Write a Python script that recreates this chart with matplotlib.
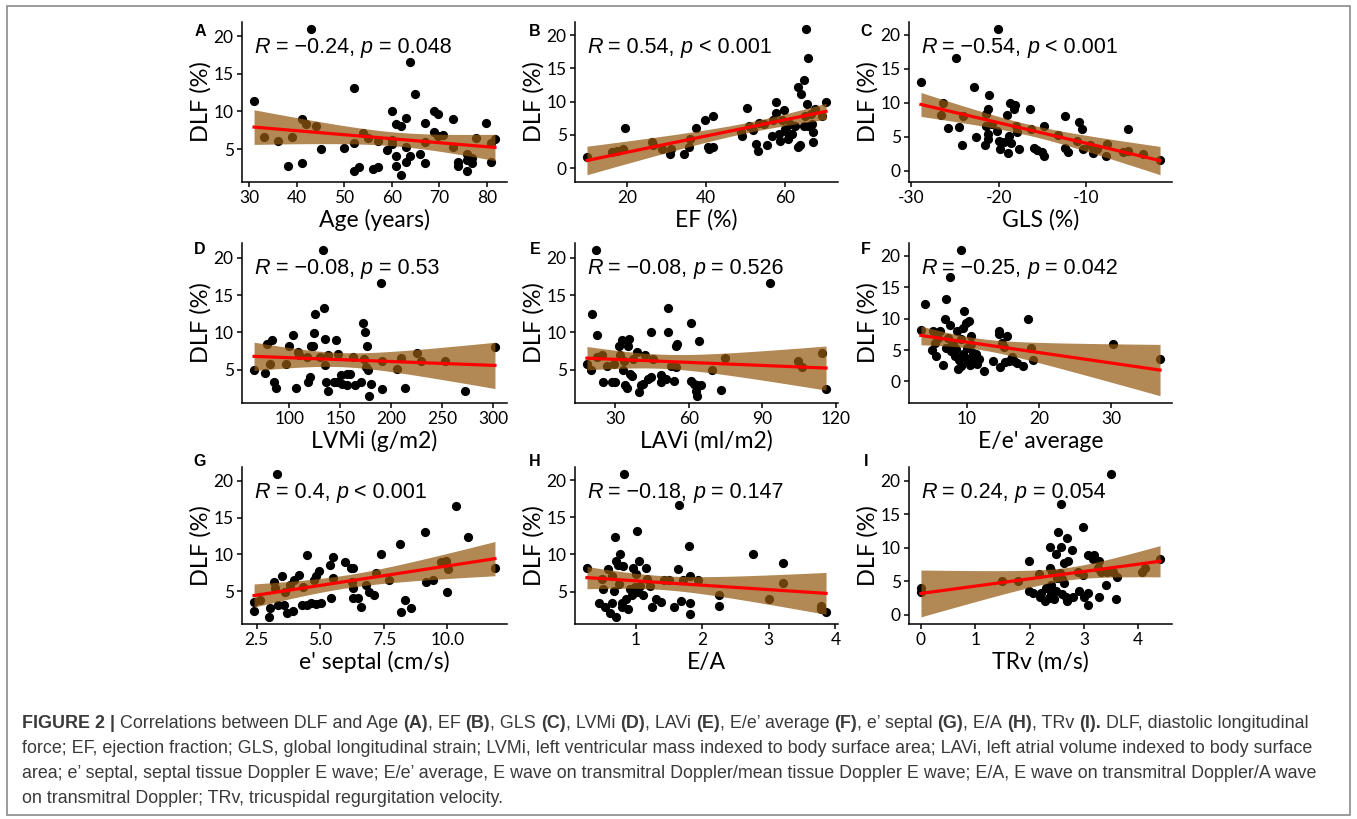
import numpy as np
import matplotlib
matplotlib.use("Agg")
import matplotlib.pyplot as plt
from matplotlib.ticker import FixedLocator, FixedFormatter
from matplotlib.patches import Rectangle

W, H = 1357, 819
T95 = 1.997  # t quantile, ~65 df

# ---- data: DLF (%) against each parameter ----
age_x = [31, 33, 36, 38.1, 39, 41, 41, 41.9, 44, 43, 45, 50, 52, 52, 52, 53, 53.9, 54.9, 56, 57,
         57, 59, 60, 60, 60, 60.9, 60.9, 60.9, 61.9, 61.9, 62.9, 62.9, 62.9, 63.9, 63.9, 64.9, 65.9,
         66.9, 66.9, 66.9, 68.8, 68.8, 69.8, 69.8, 70.8, 72.9, 72.9, 73.9, 73.9, 75.8, 75.8, 75.8,
         76.8, 77.8, 76.8, 79.8, 81.7, 80.9, 80.9]
age_dlf = [11.4, 6.6, 6.1, 2.7, 6.6, 9.0, 3.2, 8.3, 8.0, 20.9, 5.0, 5.1, 13.1, 5.8, 2.1, 2.6, 7.1,
           6.5, 2.4, 2.6, 6.1, 4.9, 10.0, 6.2, 5.7, 4.1, 2.7, 8.3, 8.0, 1.6, 9.1, 5.3, 3.3, 16.6,
           4.1, 12.3, 4.4, 8.4, 3.1, 6.0, 10.0, 7.3, 9.7, 6.7, 6.9, 9.0, 5.3, 3.3, 2.8, 4.4, 3.6,
           2.1, 3.8, 6.5, 3.1, 8.4, 6.4, 5.8, 3.3]

ef_x = [9.75, 16.05, 17.3, 19.0, 19.4, 26.4, 26.6, 28.7, 30.9, 31.0, 34.3, 35.6, 36.0, 37.5, 39.8,
        40.4, 40.8, 41.7, 41.9, 48.8, 49.2, 50.3, 50.9, 51.9, 52.6, 53.3, 53.4, 54.7, 55.5, 56.8,
        57.0, 57.9, 57.9, 58.5, 58.9, 59.2, 59.7, 60.0, 60.6, 60.8, 61.4, 61.8, 62.7, 63.3, 63.9,
        64.2, 64.8, 65.2, 63.4, 65.6, 66.0, 64.8, 65.4, 66.0, 66.6, 66.9, 67.1, 67.3, 67.7, 70.5,
        69.4]
ef_dlf = [1.6, 2.4, 2.6, 2.8, 6.1, 3.9, 3.4, 2.9, 2.1, 2.8, 2.1, 3.1, 4.4, 6.1, 7.3, 3.1, 2.8, 7.9,
          3.1, 5.4, 4.9, 9.1, 6.4, 5.7, 3.6, 2.6, 6.8, 6.7, 3.4, 4.9, 7.2, 10.0, 8.3, 5.1, 4.1, 7.2,
          8.7, 5.9, 5.4, 4.4, 6.6, 5.1, 6.4, 12.2, 3.5, 11.2, 6.4, 7.9, 3.1, 9.7, 6.3, 13.2, 20.9,
          16.6, 8.2, 6.7, 5.4, 3.9, 8.9, 10.0, 7.9]

gls_x = [-28.9, -26.4, -26.6, -25.8, -24.9, -24.6, -24.2, -22.8, -22.6, -21.5, -21.5, -21.6, -21.1,
         -21.3, -21.3, -21.2, -20.8, -20.2, -20.1, -20.0, -19.9, -19.4, -19.1, -19.0, -18.7, -18.8,
         -18.6, -18.3, -18.2, -18.1, -17.9, -17.7, -16.5, -16.3, -16.0, -15.7, -15.1, -14.9, -14.9,
         -13.2, -12.5, -12.5, -12.1, -10.8, -10.5, -10.4, -9.2, -9.2, -7.8, -7.7, -5.8, -5.3, -5.3,
         -3.6, -1.6, -11.1, -9.6, -8.8, -24.1]
gls_dlf = [13.1, 9.9, 8.2, 6.3, 16.6, 6.4, 3.8, 12.3, 4.9, 8.3, 6.5, 3.7, 11.2, 9.0, 5.4, 4.7, 6.8,
           5.9, 20.8, 4.4, 3.2, 4.2, 8.2, 2.6, 9.9, 5.1, 4.1, 9.0, 9.6, 6.6, 5.7, 3.2, 9.0, 6.2, 3.4,
           3.1, 2.8, 6.6, 2.1, 5.3, 8.0, 3.4, 2.8, 7.2, 6.1, 3.2, 2.6, 3.3, 2.1, 3.9, 2.7, 6.1, 2.9,
           2.4, 1.5, 4.4, 3.7, 3.2, 8.1]

lvmi_x = [65.2, 76, 77.7, 82.8, 81.1, 84.4, 86.8, 96.3, 99.7, 103, 106.4, 108.1, 109.8, 117.2, 118.2,
          119.9, 121.6, 123.3, 125, 124, 130, 132.8, 134.1, 135.2, 135.2, 136.2, 137.5, 137.5, 143.6,
          145.3, 146.9, 147.7, 150.4, 152, 156.5, 157, 159.8, 162.2, 164.6, 170.7, 172.3, 173.4, 174,
          176.7, 177.4, 178, 180.1, 175.7, 190.3, 191, 191, 206.2, 209.5, 214, 225.8, 229.2, 252.8,
          272.1, 302]
lvmi_dlf = [4.9, 4.5, 8.4, 9.0, 5.8, 3.4, 2.5, 5.8, 8.1, 9.6, 2.6, 7.4, 7.0, 6.7, 3.3, 4.0, 8.1, 8.2,
            12.4, 9.9, 6.7, 21.0, 13.2, 9.1, 5.6, 3.3, 2.1, 6.9, 3.3, 9.0, 3.4, 7.1, 4.3, 3.1, 4.4,
            3.0, 4.4, 6.7, 3.0, 3.4, 11.3, 6.4, 10.0, 8.2, 4.9, 1.5, 3.1, 5.3, 16.6, 6.2, 2.4, 5.1,
            6.5, 2.5, 7.2, 6.1, 6.2, 2.1, 8.0]

lavi_x = [18.4, 20, 20.4, 22, 22.7, 22.7, 24.7, 25.1, 26.4, 28.7, 30, 29.3, 31.3, 32, 32.7, 33.3,
          33.6, 34, 34.7, 35.3, 35.7, 36, 36.7, 37.1, 38.7, 39.7, 40.3, 41.3, 42, 43.3, 44.7, 44.7,
          45.3, 48.7, 48.7, 50.7, 51.3, 51.3, 52.7, 54, 54.7, 54.9, 55.2, 60.7, 60.7, 62, 62.9, 63.3,
          64.3, 65.1, 63.3, 69.3, 73.1, 74.9, 93.3, 104.7, 106, 114.4, 116.0]
lavi_dlf = [5.8, 4.9, 12.4, 21.0, 9.6, 6.7, 7.0, 3.4, 5.5, 3.4, 3.3, 5.8, 8.2, 6.9, 9.0, 4.9, 6.1,
            2.9, 2.6, 8.2, 9.1, 4.4, 4.2, 6.4, 7.4, 2.0, 2.9, 3.1, 6.9, 3.8, 10.0, 4.0, 6.4, 4.3, 3.3,
            3.8, 13.2, 10.0, 5.5, 3.5, 8.1, 5.3, 8.4, 11.3, 3.5, 3.1, 2.1, 1.5, 8.9, 3.0, 3.0, 5.0,
            2.3, 6.5, 16.6, 6.1, 5.3, 7.2, 2.4]

ee_x = [3.6, 4.2, 5.1, 5.3, 5.7, 5.6, 6.2, 6.7, 6.9, 7.1, 7.1, 7.3, 7.6, 7.7, 7.8, 7.9, 8.3, 8.6,
        8.7, 8.9, 9.1, 9.2, 9.2, 9.4, 9.5, 9.6, 9.9, 10.0, 10.2, 10.3, 10.6, 10.6, 11.0, 11.1, 11.2,
        11.4, 12.3, 13.6, 14.4, 14.4, 14.6, 14.9, 15.2, 15.3, 15.5, 15.8, 16.3, 16.5, 17.0, 17.8,
        18.4, 18.9, 19.2, 30.3, 36.8, 8.0, 9.8, 10.8, 8.4, 10.4, 6.0, 11.6]
ee_dlf = [8.2, 12.3, 5.0, 8.1, 4.1, 6.2, 8.1, 2.6, 10.0, 13.1, 5.4, 7.0, 9.0, 16.6, 4.9, 5.9, 4.1,
          8.0, 2.0, 3.4, 20.9, 6.7, 2.4, 4.3, 8.5, 11.3, 9.3, 5.4, 3.3, 9.7, 7.3, 6.0, 4.1, 3.0, 4.3,
          2.8, 1.6, 3.2, 8.0, 7.5, 2.3, 6.2, 5.5, 3.1, 7.2, 3.3, 3.9, 3.3, 2.9, 2.5, 9.9, 5.4, 3.4,
          6.0, 3.6, 6.0, 3.8, 4.6, 5.2, 2.6, 7.0, 3.6]

es_x = [2.39, 2.39, 2.63, 2.99, 3.03, 3.16, 3.22, 3.29, 3.34, 3.49, 3.55, 3.62, 3.68, 3.82, 3.91,
        3.95, 4.17, 4.26, 4.30, 4.47, 4.47, 4.63, 4.74, 4.83, 4.83, 4.96, 5.03, 5.39, 5.42, 5.49,
        5.51, 5.97, 6.21, 6.28, 6.24, 6.28, 6.28, 6.47, 6.61, 6.80, 6.93, 7.10, 7.17, 7.39, 7.72,
        8.12, 8.18, 8.32, 8.58, 9.10, 9.17, 9.43, 9.76, 9.96, 10.0, 10.03, 10.32, 10.79, 11.87]
es_dlf = [3.5, 2.3, 3.8, 1.5, 2.7, 6.2, 5.4, 20.9, 3.1, 7.0, 3.1, 4.9, 2.0, 5.8, 2.3, 6.5, 7.2, 3.1,
          5.6, 9.9, 3.1, 3.4, 6.5, 7.1, 3.2, 7.8, 3.4, 8.5, 4.0, 9.7, 6.8, 8.9, 8.1, 8.2, 6.2, 5.4,
          4.0, 4.1, 2.9, 5.8, 4.9, 4.5, 7.4, 10.0, 6.5, 11.4, 2.1, 3.8, 2.7, 13.1, 6.2, 6.5, 9.0,
          9.1, 4.9, 8.0, 16.6, 12.3, 8.2]

ea_x = [0.27, 0.45, 0.50, 0.51, 0.54, 0.59, 0.61, 0.64, 0.65, 0.68, 0.69, 0.70, 0.71, 0.73, 0.75,
        0.76, 0.79, 0.80, 0.81, 0.82, 0.86, 0.89, 0.91, 0.94, 0.96, 0.99, 1.01, 1.02, 1.03, 1.05,
        1.07, 1.11, 1.15, 1.17, 1.21, 1.24, 1.31, 1.38, 1.43, 1.50, 1.58, 1.64, 1.65, 1.68, 1.71,
        1.80, 1.81, 1.81, 1.81, 1.94, 2.25, 2.25, 2.77, 3.00, 3.21, 3.21, 3.78, 3.79, 3.86]
ea_dlf = [8.2, 3.4, 6.7, 5.3, 2.9, 8.0, 2.1, 3.4, 7.1, 5.1, 12.4, 1.6, 9.1, 8.6, 6.0, 10.0, 3.4, 2.9,
          8.5, 20.8, 4.0, 2.7, 5.4, 4.5, 8.2, 5.6, 7.4, 13.1, 5.0, 9.1, 5.8, 4.5, 8.2, 6.7, 5.8, 2.9,
          4.0, 3.6, 6.5, 6.5, 2.9, 8.0, 16.6, 3.8, 6.5, 11.2, 7.1, 3.5, 2.0, 6.5, 4.5, 3.0, 10.0,
          4.0, 8.9, 6.1, 3.1, 2.6, 2.3]

trv_x = [0, 0, 1.49, 1.79, 1.99, 1.99, 2.07, 2.18, 2.19, 2.28, 2.31, 2.38, 2.38, 2.40, 2.40, 2.42,
         2.44, 2.48, 2.48, 2.53, 2.55, 2.58, 2.58, 2.60, 2.63, 2.64, 2.67, 2.69, 2.71, 2.69, 2.78,
         2.80, 2.89, 2.98, 2.99, 3.08, 3.08, 3.08, 3.16, 3.19, 3.25, 3.27, 3.28, 3.31, 3.40, 3.43,
         3.50, 3.53, 3.59, 3.60, 4.07, 4.12, 4.40, 2.5, 2.2, 3.0, 2.35, 2.9, 2.6]
trv_dlf = [4.0, 3.4, 5.0, 5.1, 8.1, 3.6, 3.3, 6.1, 2.7, 2.0, 4.0, 10.1, 7.0, 4.5, 3.1, 6.4, 2.3, 9.1,
           3.5, 12.3, 6.2, 10.1, 16.6, 3.1, 4.8, 7.7, 2.6, 11.4, 8.1, 2.0, 9.7, 2.7, 6.4, 13.1, 5.9,
           9.0, 3.2, 1.5, 8.4, 9.0, 7.0, 8.1, 2.6, 6.4, 4.5, 6.4, 21.0, 6.4, 2.3, 5.6, 6.4, 7.0, 8.4,
           5.5, 3.2, 2.7, 2.5, 3.6, 5.3]

letters = ["A", "B", "C", "D", "E", "F", "G", "H", "I"]
xlabels = ["Age (years)", "EF (%)", "GLS (%)", "LVMi (g/m2)", "LAVi (ml/m2)", "E/e' average",
           "e' septal (cm/s)", "E/A", "TRv (m/s)"]
r_text = ["\u22120.24", "0.54", "\u22120.54", "\u22120.08", "\u22120.08", "\u22120.25", "0.4",
          "\u22120.18", "0.24"]
p_text = ["= 0.048", "< 0.001", "< 0.001", "= 0.53", "= 0.526", "= 0.042", "< 0.001", "= 0.147",
          "= 0.054"]
xticks = [[30, 40, 50, 60, 70, 80], [20, 40, 60], [-30, -20, -10], [100, 150, 200, 250, 300],
          [30, 60, 90, 120], [10, 20, 30], [2.5, 5.0, 7.5, 10.0], [1, 2, 3, 4], [0, 1, 2, 3, 4]]
xticklabels = [["30", "40", "50", "60", "70", "80"], ["20", "40", "60"], ["-30", "-20", "-10"],
               ["100", "150", "200", "250", "300"], ["30", "60", "90", "120"], ["10", "20", "30"],
               ["2.5", "5.0", "7.5", "10.0"], ["1", "2", "3", "4"], ["0", "1", "2", "3", "4"]]
yticks = [0, 5, 10, 15, 20]

caption = [
    [("FIGURE 2 |", True), (" Correlations between DLF and Age ", False), ("(A)", True),
     (", EF ", False), ("(B)", True), (", GLS ", False), ("(C)", True), (", LVMi ", False),
     ("(D)", True), (", LAVi ", False), ("(E)", True), (", E/e\u2019 average ", False), ("(F)", True),
     (", e\u2019 septal ", False), ("(G)", True), (", E/A ", False), ("(H)", True), (", TRv ", False),
     ("(I).", True), (" DLF, diastolic longitudinal", False)],
    [("force; EF, ejection fraction; GLS, global longitudinal strain; LVMi, left ventricular mass "
      "indexed to body surface area; LAVi, left atrial volume indexed to body surface", False)],
    [("area; e\u2019 septal, septal tissue Doppler E wave; E/e\u2019 average, E wave on transmitral "
      "Doppler/mean tissue Doppler E wave; E/A, E wave on transmitral Doppler/A wave", False)],
    [("on transmitral Doppler; TRv, tricuspidal regurgitation velocity.", False)],
]

# layout in pixels (left, right) / (top, bottom)
COLS = [(242, 507), (575, 838), (909, 1172)]
ROWS = [(22, 182), (243, 403), (467, 624)]
LETTER_X = [200, 535, 866]
LETTER_Y = [31, 250, 461]

RIBBON = (148 / 255, 90 / 255, 18 / 255)
AX_FONT = "Lato"
TXT_FONT = "Liberation Sans"


def fig_xy(x, y):
    return x / W, 1 - y / H


def text_width(fig, rend, s, **kw):
    t = fig.text(0, 0, s, **kw)
    w = t.get_window_extent(rend).width
    t.remove()
    return w


def rich_text(fig, rend, x, y, parts, **common):
    # draws pieces one after another on a shared baseline (pixel coords from top-left)
    for s, extra in parts:
        kw = {**common, **extra}
        space = text_width(fig, rend, "x x", **kw) - text_width(fig, rend, "xx", **kw)
        core = s.strip(" ")
        x += (len(s) - len(s.lstrip(" "))) * space
        if core:
            t = fig.text(*fig_xy(x, y), core, ha="left", va="baseline", **kw)
            x += t.get_window_extent(rend).width
        x += (len(s) - len(s.rstrip(" "))) * space
    return x


def fit_band(x, y, n_grid=100):
    x = np.asarray(x, float)
    y = np.asarray(y, float)
    n = len(x)
    slope, icpt = np.polyfit(x, y, 1)
    xs = np.linspace(x.min(), x.max(), n_grid)
    resid = y - (icpt + slope * x)
    s = np.sqrt(resid @ resid / (n - 2))
    sxx = ((x - x.mean()) ** 2).sum()
    se = s * np.sqrt(1 / n + (xs - x.mean()) ** 2 / sxx)
    fit = icpt + slope * xs
    return xs, fit, fit - T95 * se, fit + T95 * se


def main():
    plt.rcParams["axes.unicode_minus"] = False
    fig = plt.figure(figsize=(W / 100, H / 100), dpi=100)
    rend = fig.canvas.get_renderer()

    data = [(age_x, age_dlf), (ef_x, ef_dlf), (gls_x, gls_dlf),
            (lvmi_x, lvmi_dlf), (lavi_x, lavi_dlf), (ee_x, ee_dlf),
            (es_x, es_dlf), (ea_x, ea_dlf), (trv_x, trv_dlf)]

    for i, (xv, yv) in enumerate(data):
        r, c = divmod(i, 3)
        (left, right), (top, bottom) = COLS[c], ROWS[r]
        ax = fig.add_axes([left / W, 1 - bottom / H, (right - left) / W, (bottom - top) / H])

        ax.scatter(xv, yv, s=44, color="black", linewidths=0, zorder=2)
        xs, fit, lo, hi = fit_band(xv, yv)
        ax.fill_between(xs, lo, hi, color=RIBBON, alpha=0.72, linewidth=0, zorder=3)
        ax.plot(xs, fit, color="red", lw=2.3, zorder=4)
        ax.margins(0.05)

        ax.xaxis.set_major_locator(FixedLocator(xticks[i]))
        ax.xaxis.set_major_formatter(FixedFormatter(xticklabels[i]))
        ax.yaxis.set_major_locator(FixedLocator(yticks))
        ax.yaxis.set_major_formatter(FixedFormatter([str(v) for v in yticks]))

        for side in ("top", "right"):
            ax.spines[side].set_visible(False)
        for side in ("left", "bottom"):
            ax.spines[side].set_linewidth(1.1)
        ax.tick_params(direction="out", length=3.5, width=1.1, pad=2.5, labelsize=12.5,
                       colors="black")
        for lab in ax.get_xticklabels() + ax.get_yticklabels():
            lab.set_fontfamily(AX_FONT)
        ax.set_facecolor("none")

        # axis titles
        fig.text(*fig_xy((left + right) / 2, bottom + 38), xlabels[i], ha="center",
                 va="center", fontsize=16.5, family=AX_FONT)
        fig.text(*fig_xy(left - 41, (top + bottom) / 2), "DLF (%)", rotation=90, ha="center",
                 va="center", fontsize=17, family=AX_FONT)
        fig.text(*fig_xy(LETTER_X[c], LETTER_Y[r]), letters[i], ha="center", va="center",
                 fontsize=11.5, fontweight="bold", family=TXT_FONT)

        # correlation label at left of data range
        x0, x1 = ax.get_xlim()
        tx = left + (min(xv) - x0) / (x1 - x0) * (right - left)
        ty = top + 0.195 * (bottom - top)
        rich_text(fig, rend, tx, ty,
                  [("R", {"style": "italic"}), (" = " + r_text[i] + ", ", {}),
                   ("p", {"style": "italic"}), (" " + p_text[i], {})],
                  fontsize=15.5, family=TXT_FONT, color="black")

    # caption, sized so that line 2 spans the box width
    cap_kw = dict(family=TXT_FONT, color="#3a3a3a")
    w12 = text_width(fig, rend, caption[1][0][0], fontsize=12, **cap_kw)
    cap_size = 12 * (1315 - 22) / w12
    for k, line in enumerate(caption):
        parts = [(s, {"fontweight": "bold"} if b else {}) for s, b in line]
        rich_text(fig, rend, 22, 728 + 25 * k, parts, fontsize=cap_size, **cap_kw)

    fig.add_artist(Rectangle(fig_xy(7, 815), (1350 - 7) / W, (815 - 6) / H,
                             transform=fig.transFigure, fill=False, edgecolor="#8a8a8a",
                             linewidth=1.2))

    fig.savefig("out.png", dpi=100)


if __name__ == "__main__":
    main()
